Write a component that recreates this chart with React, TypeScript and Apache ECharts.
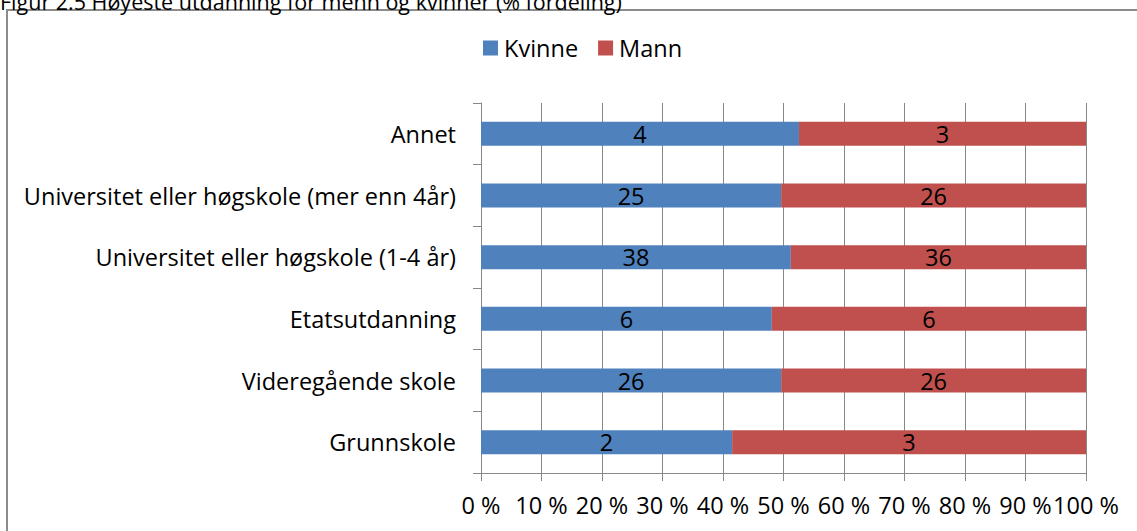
import React, { useEffect, useRef } from "react";
import * as echarts from "echarts";

const TITLE = "Figur 2.5 Høyeste utdanning for menn og kvinner (% fordeling)";
const categories = [
  "Grunnskole",
  "Videregående skole",
  "Etatsutdanning",
  "Universitet eller høgskole (1-4 år)",
  "Universitet eller høgskole (mer enn 4år)",
  "Annet",
];
const kvinne = [2.2, 25.6, 5.6, 38.0, 25.4, 3.6];
const mann = [3.1, 26.0, 6.05, 36.2, 25.8, 3.25];
const xTicks = [0, 10, 20, 30, 40, 50, 60, 70, 80, 90, 100];

const FONT = "'Open Sans', 'Noto Sans', sans-serif";
const FS = 23.5;

export default function App() {
  const ref = useRef<HTMLDivElement>(null);
  useEffect(() => {
    if (!ref.current) return;
    const chart = echarts.init(ref.current, undefined, { renderer: "svg" });
    const total = kvinne.map((k, i) => k + mann[i]);
    const kPct = kvinne.map((k, i) => ({ value: (k / total[i]) * 100, raw: k }));
    const mPct = mann.map((m, i) => ({ value: (m / total[i]) * 100, raw: m }));
    const labelCfg = {
      show: true,
      position: "inside" as const,
      color: "#000",
      fontSize: FS,
      fontFamily: FONT,
      formatter: (p: any) => String(Math.round(p.data.raw)),
    };
    chart.setOption({
      animation: false,
      backgroundColor: "#fff",
      textStyle: { fontFamily: FONT },
      graphic: [
        {
          type: "rect",
          shape: { x: 7, y: 10, width: 1140, height: 540 },
          style: { fill: "none", stroke: "#8c8c8c", lineWidth: 2 },
          silent: true,
        },
        {
          type: "text",
          style: {
            x: 0,
            y: 12,
            text: TITLE,
            font: `21.5px ${FONT}`,
            fill: "#000",
            verticalAlign: "bottom",
          },
          silent: true,
        },
      ],
      legend: {
        data: ["Kvinne", "Mann"],
        left: 478,
        top: 31,
        itemWidth: 15,
        itemHeight: 15,
        itemGap: 20,
        icon: "rect",
        textStyle: { fontSize: FS, color: "#000", fontFamily: FONT, padding: [0, 0, 0, 1] },
      },
      grid: { left: 481, right: 51, top: 103, bottom: 58, containLabel: false },
      xAxis: {
        type: "value",
        min: xTicks[0],
        max: xTicks[xTicks.length - 1],
        interval: 10,
        axisLine: { show: true, lineStyle: { color: "#888", width: 1 } },
        axisTick: { show: true, length: 8, lineStyle: { color: "#888" } },
        splitLine: { show: true, lineStyle: { color: "#888", width: 1 } },
        axisLabel: {
          formatter: "{value} %",
          fontSize: FS,
          color: "#000",
          fontFamily: FONT,
          margin: 20,
        },
      },
      yAxis: {
        type: "category",
        data: categories,
        axisLine: { show: true, lineStyle: { color: "#888", width: 1 } },
        axisTick: { show: true, length: 8, lineStyle: { color: "#888" } },
        splitLine: { show: false },
        axisLabel: { fontSize: FS, color: "#000", fontFamily: FONT, margin: 25 },
      },
      series: [
        {
          name: "Kvinne",
          type: "bar",
          stack: "total",
          barWidth: 24,
          itemStyle: { color: "#4F81BD" },
          label: labelCfg,
          data: kPct,
        },
        {
          name: "Mann",
          type: "bar",
          stack: "total",
          barWidth: 24,
          itemStyle: { color: "#C0504D" },
          label: labelCfg,
          data: mPct,
        },
      ],
    });
    return () => chart.dispose();
  }, []);
  return (
    <div
      ref={ref}
      style={{ position: "absolute", left: 0, top: 0, width: 1137, height: 531 }}
    />
  );
}
